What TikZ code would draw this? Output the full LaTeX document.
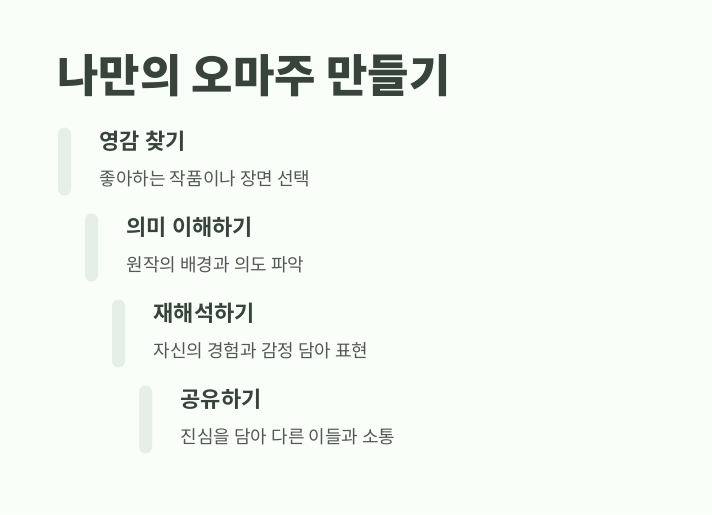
\documentclass[tikz,border=0pt]{standalone}
\usepackage{fontspec}
\setmainfont{Noto Sans CJK KR}[BoldFont={Noto Sans CJK KR Bold}]
\newfontfamily\heavyfont{Noto Sans CJK KR Black}
\usetikzlibrary{positioning}
\definecolor{bgcol}{HTML}{F9FEF9}
\definecolor{inkcol}{HTML}{38433B}
\definecolor{barcol}{HTML}{E5EEE7}
\definecolor{desccol}{HTML}{525855}

\begin{document}
\begin{tikzpicture}[x=1pt,y=-1pt]
\tikzset{bar/.style={rectangle,fill=barcol,rounded corners=6.5pt,minimum width=13pt,minimum height=68pt,inner sep=0pt},
  head/.style={anchor=west,inner sep=0pt,text=inkcol,font=\fontsize{22}{26}\selectfont\bfseries},
  desc/.style={anchor=west,inner sep=0pt,text=desccol,font=\fontsize{18}{22}\selectfont}}

\fill[bgcol] (0,0) rectangle (712,514);

\node [anchor=base west,inner sep=0pt,text=inkcol,font=\fontsize{45}{54}\selectfont\heavyfont] (title) at (57,92) {나만의 오마주 만들기};

\foreach \i/\step/\what in {0/영감 찾기/좋아하는 작품이나 장면 선택,1/의미 이해하기/원작의 배경과 의도 파악,2/재해석하기/자신의 경험과 감정 담아 표현,3/공유하기/진심을 담아 다른 이들과 소통}
{
  \node [bar] (bar\i) at (64.5+27*\i,161.5+86*\i) {};
  \node [head] (head\i) at (99.5+27*\i,141+86*\i) {\step};
  \node [desc] (desc\i) at ([yshift=-38pt]head\i.west) {\what};
}

\end{tikzpicture}
\end{document}
